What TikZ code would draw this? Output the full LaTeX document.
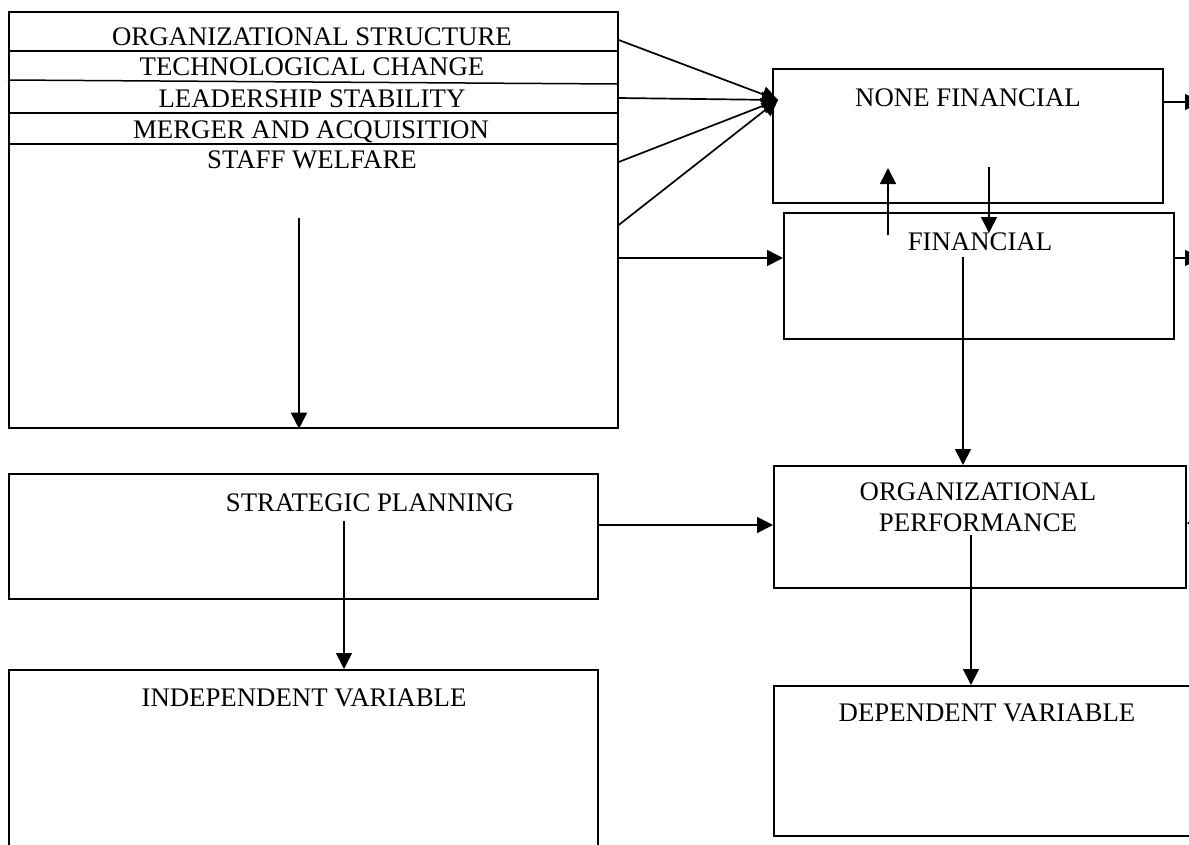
\documentclass[tikz,border=0pt]{standalone}
\usepackage{fontspec}
\setmainfont{Liberation Serif}
\usetikzlibrary{arrows.meta}
\begin{document}
\begin{tikzpicture}[x=1pt,y=-1pt,
  box/.style={draw,line width=1.7pt,inner sep=0pt,anchor=north west},
  lbl/.style={inner sep=0pt,anchor=base,font=\fontsize{26.8}{31}\selectfont},
  sep/.style={line width=1.5pt},
  arr/.style={line width=1.7pt,-{Triangle[length=16pt,width=16pt]}}]
\useasboundingbox (0,0) rectangle (1189,844);
% boxes
\node[box,minimum width=609pt,minimum height=416pt] (top) at (8,11) {};
\node[box,minimum width=390pt,minimum height=134pt] (nf) at (772,68) {};
\node[box,minimum width=390pt,minimum height=126pt] (fin) at (783,212) {};
\node[box,minimum width=589pt,minimum height=125pt] (sp) at (8,473) {};
\node[box,minimum width=412pt,minimum height=122pt] (op) at (773,465) {};
\node[box,minimum width=589pt,minimum height=260pt] (iv) at (8,669) {};
\node[box,minimum width=440pt,minimum height=150pt] (dv) at (773,685) {};
% row separators
\draw[sep] (top.west |- 0,51) -- (top.east |- 0,51);
\draw[sep] (top.west |- 0,80) -- (top.east |- 0,84);
\draw[sep] (top.west |- 0,113) -- (top.east |- 0,113);
\draw[sep] (top.west |- 0,144) -- (top.east |- 0,144);
% texts
\node[lbl] (t1) at (312,45) {ORGANIZATIONAL STRUCTURE};
\node[lbl] (t2) at (312,75) {TECHNOLOGICAL CHANGE};
\node[lbl] (t3) at (312,107) {LEADERSHIP STABILITY};
\node[lbl] (t4) at (311,138) {MERGER AND ACQUISITION};
\node[lbl] (t5) at (312,168) {STAFF WELFARE};
\node[lbl] (tnf) at (968,106) {NONE FINANCIAL};
\node[lbl] (tfin) at (980,250) {FINANCIAL};
\node[lbl] (tsp) at (370,511) {STRATEGIC PLANNING};
\node[lbl] (top1) at (978,500) {ORGANIZATIONAL};
\node[lbl] (top2) at (978,531) {PERFORMANCE};
\node[lbl] (tiv) at (304,706) {INDEPENDENT VARIABLE};
\node[lbl] (tdv) at (987,721) {DEPENDENT VARIABLE};
% connectors
\coordinate (nfin) at ([xshift=6pt]nf.west |- 0,100);
\draw[arr] (top.east |- 0,40) -- (nfin);
\draw[arr] (top.east |- 0,98) -- (nfin);
\draw[arr] (top.east |- 0,162) -- (nfin);
\draw[arr] (top.east |- 0,225) -- (nfin);
\draw[arr] (top.east |- 0,258) -- (fin.west |- 0,258);
\coordinate (nfout) at (1201,102);
\coordinate (finout) at (1201,258);
\draw[arr] (nf.east |- 0,102) -- (nfout);
\draw[arr] (fin.east |- 0,258) -- (finout);
\coordinate (upS) at (888,235);
\coordinate (upE) at (888,168);
\draw[arr] (upS) -- (upE);
\coordinate (dnS) at (989,167);
\coordinate (dnE) at (989,233);
\draw[arr] (dnS) -- (dnE);
\coordinate (finS) at (963,257);
\draw[arr] (finS) -- (op.north -| finS);
\coordinate (wS) at (299,218);
\draw[arr] (wS) -- (top.south -| wS);
\draw[arr] (sp.east |- 0,525) -- (op.west |- 0,525);
\coordinate (spS) at (344,521);
\draw[arr] (spS) -- (iv.north -| spS);
\coordinate (opS) at (971,535);
\draw[arr] (opS) -- (dv.north -| opS);
\coordinate (opR) at (1214,523);
\draw[arr] (opR) -- (op.east |- opR);
\end{tikzpicture}
\end{document}
